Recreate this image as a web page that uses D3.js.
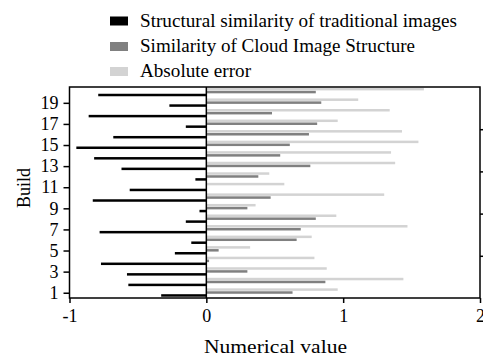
<!DOCTYPE html>
<html>
<head>
<meta charset="utf-8">
<script src="https://cdn.jsdelivr.net/npm/d3@7"></script>
<style>
  body { margin: 0; background: #fff; }
  text { font-family: "Liberation Serif", "Times New Roman", serif; fill: #000; }
</style>
</head>
<body>
<div id="chart"></div>
<script>
// categories 1..20
const builds = d3.range(1, 21);
const traditional = [-0.33, -0.57, -0.58, -0.77, -0.23, -0.11, -0.78, -0.15, -0.05, -0.83,
  -0.56, -0.08, -0.62, -0.82, -0.95, -0.68, -0.15, -0.86, -0.27, -0.79];
const cloud = [0.63, 0.87, 0.30, 0.02, 0.09, 0.66, 0.69, 0.80, 0.30, 0.47,
  0.00, 0.38, 0.76, 0.54, 0.61, 0.75, 0.81, 0.48, 0.84, 0.80];
const absError = [0.96, 1.44, 0.88, 0.79, 0.32, 0.77, 1.47, 0.95, 0.36, 1.30,
  0.57, 0.46, 1.38, 1.35, 1.55, 1.43, 0.96, 1.34, 1.11, 1.59];
const yTicks = [1, 3, 5, 7, 9, 11, 13, 15, 17, 19];
const xTicks = [-1, 0, 1, 2];
const rightTicks = [4.5, 8.5, 12.5, 16.5];
const seriesNames = ['Structural similarity of traditional images', 'Similarity of Cloud Image Structure', 'Absolute error'];
const colors = ['#000000', '#808080', '#d3d3d3'];

const W = 483, H = 356;
const margin = {top: 87, right: 3, bottom: 58, left: 69.5};
const width = W - margin.left - margin.right;
const height = H - margin.top - margin.bottom;

const svg = d3.select('#chart').append('svg')
  .attr('width', W).attr('height', H);
const g = svg.append('g').attr('transform', `translate(${margin.left},${margin.top})`);

const x = d3.scaleLinear().domain([-1, 2]).range([0, width]);
const y = d3.scaleLinear().domain([0.5, 20.5]).range([height, 0]);
// offsets of the three bars inside one build
const sub = d3.scaleBand().domain(['abs', 'cloud', 'trad']).range([-4.6, 4.2]);
const barH = 2.5;

const rows = builds.map((b, i) => ({b, trad: traditional[i], cloud: cloud[i], abs: absError[i]}));

const drawBars = (key, color) => {
  g.append('g').selectAll('rect').data(rows).enter().append('rect')
    .attr('x', d => x(Math.min(0, d[key])))
    .attr('y', d => y(d.b) + sub(key) + (sub.bandwidth() - barH) / 2)
    .attr('width', d => Math.abs(x(d[key]) - x(0)))
    .attr('height', barH)
    .attr('fill', color);
};
drawBars('abs', colors[2]);
drawBars('cloud', colors[1]);
drawBars('trad', colors[0]);

// zero line
g.append('line')
  .attr('x1', x(0)).attr('x2', x(0)).attr('y1', 0).attr('y2', height)
  .attr('stroke', '#000').attr('stroke-width', 1.5);

// frame
g.append('rect').attr('width', width).attr('height', height)
  .attr('fill', 'none').attr('stroke', '#000').attr('stroke-width', 1.5);

// axes
const xAxis = g.append('g').attr('transform', `translate(0,${height})`)
  .call(d3.axisBottom(x).tickValues(xTicks).tickSize(5).tickPadding(6).tickFormat(d => String(d)));
const yAxis = g.append('g')
  .call(d3.axisLeft(y).tickValues(yTicks).tickSize(6).tickPadding(5).tickFormat(d => String(d)));
const rAxis = g.append('g').attr('transform', `translate(${width},0)`)
  .call(d3.axisRight(y).tickValues(rightTicks).tickSize(4));
rAxis.selectAll('text').remove();
[xAxis, yAxis, rAxis].forEach(a => {
  a.attr('font-family', null);
  a.select('.domain').remove();
  a.selectAll('line').attr('stroke', '#000').attr('stroke-width', 1.5);
  a.selectAll('text').style('font-size', '18px');
});

// axis titles
svg.append('text')
  .attr('x', 204).attr('y', 353)
  .attr('textLength', 143).attr('lengthAdjust', 'spacingAndGlyphs')
  .style('font-size', '19px')
  .text('Numerical value');
svg.append('text')
  .attr('transform', 'translate(30,188) rotate(-90)')
  .attr('text-anchor', 'middle')
  .style('font-size', '18px')
  .text('Build');

// legend
const legend = svg.append('g').attr('transform', 'translate(110,0)');
const legendY = [21, 46.5, 71.5];
const legendLen = [317, 275, 111];
seriesNames.forEach((name, i) => {
  legend.append('rect')
    .attr('x', 0).attr('y', legendY[i] - 4.5)
    .attr('width', 18).attr('height', 9)
    .attr('fill', colors[i]);
  legend.append('text')
    .attr('x', 30).attr('y', legendY[i] + 5.5)
    .attr('textLength', legendLen[i]).attr('lengthAdjust', 'spacingAndGlyphs')
    .style('font-size', '18px')
    .text(name);
});
</script>
</body>
</html>
